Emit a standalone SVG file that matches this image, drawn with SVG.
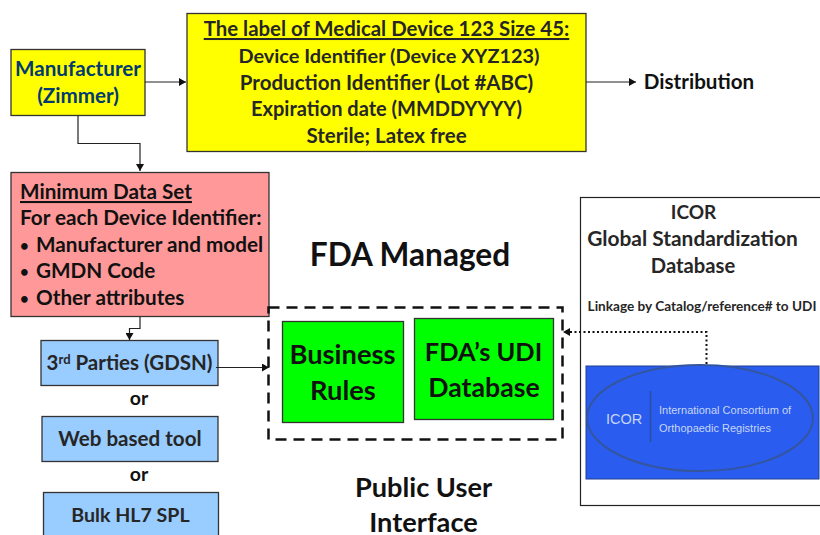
<svg xmlns="http://www.w3.org/2000/svg" width="820" height="535" viewBox="0 0 820 535">
<style>
text{font-family:Lato,"Liberation Sans",sans-serif;font-weight:700;text-anchor:middle}
.box{stroke:#333;stroke-width:1.3}
.t{fill:#262626}
.l{font-size:20.700px;fill:#111;text-anchor:start}
.b{font-size:15px;fill:#111;text-anchor:start}
.c{fill:none;stroke:#222;stroke-width:1.2}
.i{fill:#c6d6f5;font-family:"Liberation Sans",sans-serif;font-weight:400}
</style>
<defs>
<marker id="a" markerUnits="userSpaceOnUse" markerWidth="8" markerHeight="8" refX="7" refY="4" orient="auto"><path d="M0 0L7 4L0 8Z" fill="#111"/></marker>
</defs>
<rect width="820" height="535" fill="#fff"/>
<g id="manufacturer">
<rect class="box" x="11" y="49.500" width="134" height="66" fill="#ff0"/>
<text x="78" y="76" font-size="20.600" fill="#003a70">Manufacturer</text>
<text x="78" y="103" font-size="20.600" fill="#003a70">(Zimmer)</text>
</g>
<g id="label">
<rect class="box" x="187" y="13.500" width="399" height="138" fill="#ff0"/>
<text class="t" x="386.500" y="36" font-size="20.400" text-decoration="underline">The label of Medical Device 123 Size 45:</text>
<text class="t" x="389" y="63" font-size="19.900">Device Identifier (Device XYZ123)</text>
<text class="t" x="386.500" y="90" font-size="20.500">Production Identifier (Lot #ABC)</text>
<text class="t" x="386.500" y="116" font-size="20">Expiration date (MMDDYYYY)</text>
<text class="t" x="386.500" y="143" font-size="20.500">Sterile; Latex free</text>
</g>
<g id="distribution"><text x="699" y="89" font-size="20.600" fill="#111">Distribution</text></g>
<g id="minimum-data-set">
<rect class="box" x="11" y="172.500" width="258" height="144" fill="#ff9999"/>
<text class="l" x="20" y="199" text-decoration="underline">Minimum Data Set</text>
<text class="l" x="20" y="225">For each Device Identifier:</text>
<text class="b" x="20" y="251">•</text><text class="l" x="36" y="252">Manufacturer and model</text>
<text class="b" x="20" y="277">•</text><text class="l" x="36" y="278">GMDN Code</text>
<text class="b" x="20" y="304">•</text><text class="l" x="36" y="305">Other attributes</text>
</g>
<g id="third-parties">
<rect class="box" x="41" y="340.500" width="177" height="45" fill="#99ccff"/>
<text x="129.500" y="370" font-size="20.500" fill="#262626">3<tspan font-size="13" dy="-6">rd</tspan><tspan dy="6"> Parties (GDSN)</tspan></text>
</g>
<g id="or-1"><text x="139" y="405" font-size="19.500" fill="#111">or</text></g>
<g id="web-tool">
<rect class="box" x="42" y="416.500" width="176" height="45" fill="#99ccff"/>
<text x="130" y="446" font-size="20.600" fill="#262626">Web based tool</text>
</g>
<g id="or-2"><text x="139" y="481" font-size="19.500" fill="#111">or</text></g>
<g id="bulk">
<rect class="box" x="43.500" y="492.500" width="175" height="50" fill="#99ccff"/>
<text x="130.500" y="522" font-size="19.600" fill="#262626">Bulk HL7 SPL</text>
</g>
<g id="fda-managed"><text x="410" y="266" font-size="31.600" fill="#111">FDA Managed</text></g>
<g id="managed-boundary"><rect x="268.500" y="307.500" width="294" height="132" fill="none" stroke="#111" stroke-width="2.500" stroke-dasharray="11 7"/></g>
<g id="business-rules">
<rect class="box" x="282.500" y="321.500" width="121" height="101" fill="#00ff00"/>
<text x="342.500" y="364" font-size="27.300" fill="#111">Business</text>
<text x="343" y="400" font-size="27.300" fill="#111">Rules</text>
</g>
<g id="udi-database">
<rect class="box" x="414.500" y="318.500" width="139" height="101" fill="#00ff00"/>
<text x="483.500" y="361" font-size="25.400" fill="#111">FDA’s UDI</text>
<text x="484" y="397" font-size="26.700" fill="#111">Database</text>
</g>
<g id="public-interface">
<text x="423.500" y="497" font-size="27.200" fill="#111">Public User</text>
<text x="423.500" y="532" font-size="27.200" fill="#111">Interface</text>
</g>
<g id="icor-panel">
<rect x="580.500" y="197.500" width="250" height="308" fill="#fff" stroke="#222" stroke-width="1.200"/>
<text x="693.500" y="219" font-size="19px" fill="#262626">ICOR</text>
<text x="692.500" y="246" font-size="20.900" fill="#262626">Global Standardization</text>
<text x="693" y="273" font-size="20.200" fill="#262626">Database</text>
<text x="702" y="311" font-size="13.600" fill="#262626">Linkage by Catalog/reference# to UDI</text>
<rect x="586" y="366" width="233" height="113" fill="#2a5cf0" stroke="#1f3f8f" stroke-width="1"/>
<ellipse cx="700" cy="418" rx="113" ry="53" fill="#2a5cf0" stroke="#34569f" stroke-width="2"/>
<line x1="650.500" y1="391" x2="650.500" y2="442" stroke="#2c4f9c" stroke-width="1.500"/>
<text class="i" x="624" y="424" font-size="14.500">ICOR</text>
<text class="i" x="659" y="414" font-size="11" style="text-anchor:start">International  Consortium of</text>
<text class="i" x="659" y="432" font-size="11" style="text-anchor:start">Orthopaedic Registries</text>
</g>
<g id="connectors">
<path class="c" d="M145 82H186" marker-end="url(#a)"/>
<path class="c" d="M586 82H636" marker-end="url(#a)"/>
<path class="c" d="M78 116V143.500H140V171" marker-end="url(#a)"/>
<path class="c" d="M140 317V328.500H129.500V340" marker-end="url(#a)"/>
<path class="c" d="M216 367.500H269" marker-end="url(#a)"/>
<path d="M706.500 364V332H563" fill="none" stroke="#111" stroke-width="2" stroke-dasharray="2 2.500" marker-end="url(#a)"/>
</g>
</svg>
